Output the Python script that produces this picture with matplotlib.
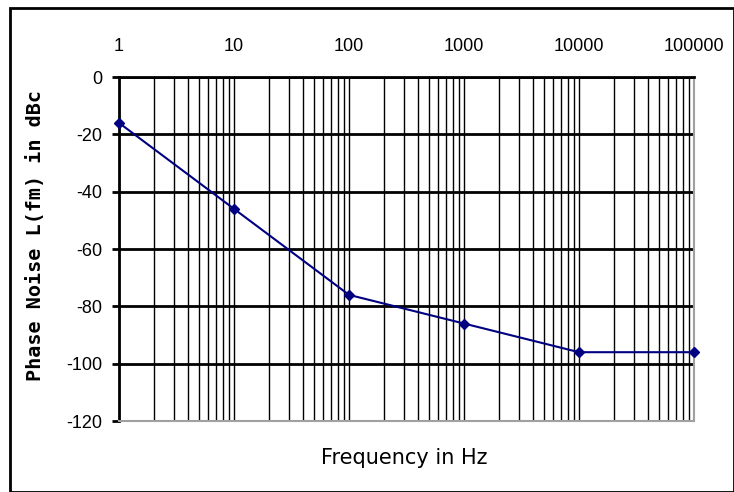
import matplotlib
matplotlib.use("Agg")
import matplotlib.pyplot as plt
import matplotlib.patches as mpatches
from matplotlib.ticker import LogLocator, FixedLocator, NullFormatter

freq = [1, 10, 100, 1000, 10000, 100000]
noise = [-16, -46, -76, -86, -96, -96]
xtick_labels = ["1", "10", "100", "1000", "10000", "100000"]
yticks = [0, -20, -40, -60, -80, -100, -120]
ytick_labels = ["0", "-20", "-40", "-60", "-80", "-100", "-120"]

tick_font = "Liberation Sans"
tick_size = 13

W, H = 734, 492
fig = plt.figure(figsize=(W / 100, H / 100), dpi=100)
ax = fig.add_axes([119 / W, 1 - 421 / H, (694 - 119) / W, (421 - 77) / H])

ax.set_xscale("log")
ax.set_xlim(1, 100000)
ax.set_ylim(-120, 0)

ax.xaxis.set_major_locator(FixedLocator(freq))
ax.xaxis.set_minor_locator(LogLocator(base=10, subs=range(2, 10)))
ax.xaxis.set_minor_formatter(NullFormatter())
ax.set_xticks(freq)
ax.set_xticklabels(xtick_labels, fontfamily=tick_font, fontsize=tick_size)
ax.xaxis.tick_top()
ax.tick_params(axis="x", which="both", length=0, pad=16)
ax.set_yticks(yticks)
ax.set_yticklabels(ytick_labels, fontfamily=tick_font, fontsize=tick_size)
ax.tick_params(axis="y", length=5, width=2, direction="out", pad=7)

ax.grid(True, axis="y", which="major", color="black", linewidth=2)
ax.grid(True, axis="x", which="both", color="black", linewidth=1)

for s in ["top", "left"]:
    ax.spines[s].set_color("black")
    ax.spines[s].set_linewidth(2)
for s in ["bottom", "right"]:
    ax.spines[s].set_color("#a0a0a0")
    ax.spines[s].set_linewidth(1.5)

ax.plot(freq, noise, color="#000080", linewidth=1.5, marker="D", markersize=5, clip_on=False, zorder=5)

ax.set_ylabel("Phase Noise L(fm) in dBc", fontsize=14.5, fontweight="bold",
              fontfamily="DejaVu Sans Mono")
ax.yaxis.set_label_coords(-0.129, 0.538)
fig.text(404 / W, 1 - 458 / H, "Frequency in Hz", ha="center", va="center", fontsize=15)

fig.patches.append(mpatches.Rectangle((10 / W, 0), (W - 10) / W, 1 - 8 / H,
                                      transform=fig.transFigure, fill=False,
                                      edgecolor="black", linewidth=2))

fig.savefig("out.png", dpi=100)
